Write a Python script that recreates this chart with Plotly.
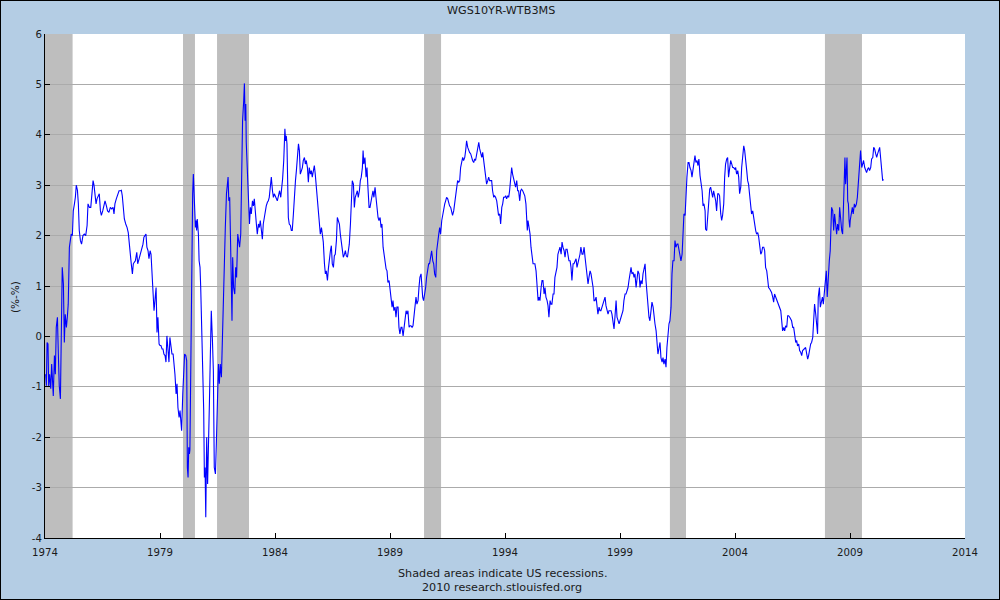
import plotly.graph_objects as go

# ---- data (decimal years, spread in percentage points) ----
years = [
1974.03,1974.06,1974.09,1974.13,1974.16,1974.20,1974.25,1974.29,1974.32,1974.36,1974.41,1974.45,1974.49,1974.54,1974.58,1974.62,1974.67,1974.71,1974.75,1974.80,1974.84,1974.88,1974.93,1974.97,
1975.01,1975.06,1975.10,1975.14,1975.19,1975.23,1975.28,1975.32,1975.36,1975.41,1975.45,1975.49,1975.54,1975.59,1975.65,1975.71,1975.77,1975.83,1975.87,1975.93,1975.99,
1976.04,1976.09,1976.13,1976.17,1976.22,1976.26,1976.30,1976.36,1976.41,1976.45,1976.51,1976.57,1976.61,1976.67,1976.72,1976.78,1976.84,1976.90,1976.96,
1977.00,1977.04,1977.10,1977.16,1977.22,1977.28,1977.32,1977.36,1977.41,1977.45,1977.51,1977.57,1977.62,1977.67,1977.71,1977.75,1977.80,1977.84,1977.88,1977.93,1977.99,
1978.03,1978.09,1978.14,1978.20,1978.26,1978.30,1978.35,1978.39,1978.43,1978.48,1978.52,1978.57,1978.61,1978.65,1978.70,1978.74,1978.78,1978.83,1978.87,1978.91,1978.96,
1979.00,1979.04,1979.09,1979.13,1979.17,1979.22,1979.26,1979.30,1979.35,1979.39,1979.43,1979.48,1979.52,1979.57,1979.61,1979.65,1979.70,1979.74,1979.78,1979.83,1979.87,1979.91,1979.94,1979.99,
1980.03,1980.07,1980.12,1980.16,1980.19,1980.22,1980.25,1980.28,1980.30,1980.33,1980.36,1980.39,1980.42,1980.45,1980.48,1980.51,1980.54,1980.57,1980.59,1980.62,1980.67,1980.70,1980.74,1980.77,1980.80,1980.83,1980.86,1980.90,1980.93,1980.96,1980.99,
1981.00,1981.03,1981.07,1981.10,1981.15,1981.19,1981.23,1981.28,1981.32,1981.36,1981.41,1981.45,1981.49,1981.54,1981.58,1981.62,1981.67,1981.71,1981.75,1981.80,1981.84,1981.89,1981.93,1981.96,1981.99,
1982.03,1982.07,1982.10,1982.13,1982.16,1982.20,1982.25,1982.29,1982.33,1982.38,1982.42,1982.46,1982.51,1982.55,1982.59,1982.64,1982.67,1982.70,1982.73,1982.75,1982.80,1982.84,1982.89,1982.93,1982.97,
1983.02,1983.06,1983.10,1983.15,1983.19,1983.23,1983.28,1983.32,1983.36,1983.41,1983.45,1983.49,1983.54,1983.58,1983.62,1983.67,1983.71,1983.75,1983.80,1983.84,1983.89,1983.93,1983.97,
1984.02,1984.06,1984.10,1984.15,1984.20,1984.25,1984.29,1984.33,1984.38,1984.41,1984.43,1984.46,1984.49,1984.52,1984.55,1984.58,1984.62,1984.67,1984.71,1984.75,1984.80,1984.84,1984.89,1984.93,1984.97,
1985.02,1985.06,1985.10,1985.15,1985.19,1985.23,1985.28,1985.32,1985.36,1985.41,1985.45,1985.49,1985.54,1985.58,1985.62,1985.67,1985.71,1985.75,1985.80,1985.84,1985.89,1985.93,1985.97,
1986.02,1986.06,1986.10,1986.15,1986.19,1986.23,1986.28,1986.32,1986.36,1986.41,1986.45,1986.49,1986.54,1986.58,1986.62,1986.67,1986.71,1986.75,1986.80,1986.84,1986.89,1986.93,1986.97,
1987.02,1987.06,1987.10,1987.15,1987.19,1987.23,1987.28,1987.32,1987.36,1987.41,1987.45,1987.49,1987.54,1987.58,1987.62,1987.67,1987.71,1987.75,1987.80,1987.83,1987.86,1987.91,1987.96,
1988.00,1988.04,1988.09,1988.13,1988.17,1988.22,1988.26,1988.30,1988.35,1988.39,1988.43,1988.48,1988.52,1988.57,1988.61,1988.65,1988.70,1988.74,1988.78,1988.83,1988.87,1988.91,1988.96,
1989.00,1989.04,1989.09,1989.13,1989.17,1989.22,1989.26,1989.30,1989.35,1989.39,1989.43,1989.48,1989.52,1989.57,1989.61,1989.65,1989.70,1989.74,1989.78,1989.83,1989.87,1989.91,1989.96,
1990.00,1990.04,1990.09,1990.13,1990.17,1990.22,1990.26,1990.30,1990.35,1990.38,1990.42,1990.46,1990.51,1990.55,1990.59,1990.64,1990.68,1990.72,1990.77,1990.81,1990.86,1990.90,1990.94,1990.99,
1991.03,1991.07,1991.12,1991.16,1991.20,1991.25,1991.29,1991.33,1991.38,1991.42,1991.46,1991.51,1991.55,1991.59,1991.64,1991.68,1991.72,1991.77,1991.81,1991.86,1991.90,1991.94,1991.99,
1992.03,1992.07,1992.12,1992.16,1992.20,1992.25,1992.29,1992.33,1992.38,1992.42,1992.46,1992.51,1992.55,1992.59,1992.64,1992.68,1992.72,1992.77,1992.81,1992.86,1992.90,1992.94,1992.99,
1993.03,1993.07,1993.12,1993.16,1993.20,1993.25,1993.29,1993.33,1993.38,1993.42,1993.46,1993.51,1993.55,1993.59,1993.64,1993.68,1993.72,1993.77,1993.81,1993.86,1993.90,1993.94,1993.99,
1994.03,1994.07,1994.12,1994.16,1994.20,1994.25,1994.29,1994.33,1994.38,1994.42,1994.46,1994.51,1994.55,1994.59,1994.64,1994.68,1994.72,1994.77,1994.81,1994.86,1994.91,1994.94,1994.97,
1995.00,1995.04,1995.09,1995.13,1995.17,1995.22,1995.26,1995.30,1995.35,1995.39,1995.44,1995.48,1995.52,1995.57,1995.61,1995.65,1995.70,1995.74,1995.78,1995.83,1995.87,1995.91,1995.96,
1996.00,1996.04,1996.09,1996.13,1996.17,1996.22,1996.26,1996.30,1996.35,1996.39,1996.44,1996.48,1996.52,1996.57,1996.61,1996.65,1996.70,1996.74,1996.78,1996.83,1996.87,1996.91,1996.96,
1997.00,1997.04,1997.09,1997.13,1997.17,1997.22,1997.26,1997.30,1997.35,1997.39,1997.44,1997.48,1997.52,1997.57,1997.61,1997.65,1997.70,1997.74,1997.78,1997.83,1997.87,1997.91,1997.96,
1998.00,1998.04,1998.09,1998.13,1998.17,1998.22,1998.26,1998.30,1998.35,1998.39,1998.44,1998.48,1998.52,1998.57,1998.61,1998.65,1998.70,1998.74,1998.78,1998.83,1998.87,1998.91,1998.96,
1999.00,1999.04,1999.09,1999.13,1999.17,1999.22,1999.26,1999.30,1999.35,1999.39,1999.44,1999.48,1999.52,1999.57,1999.61,1999.65,1999.70,1999.74,1999.78,1999.83,1999.87,1999.91,1999.96,
2000.00,2000.04,2000.09,2000.13,2000.17,2000.22,2000.26,2000.30,2000.35,2000.39,2000.44,2000.48,2000.52,2000.57,2000.61,2000.65,2000.70,2000.74,2000.78,2000.83,2000.87,2000.91,2000.96,
2001.00,2001.04,2001.09,2001.13,2001.17,2001.22,2001.26,2001.30,2001.35,2001.39,2001.43,2001.48,2001.52,2001.57,2001.61,2001.65,2001.70,2001.74,2001.78,2001.83,2001.87,2001.91,2001.96,
2002.00,2002.04,2002.09,2002.13,2002.17,2002.22,2002.26,2002.30,2002.35,2002.39,2002.43,2002.48,2002.52,2002.57,2002.61,2002.65,2002.70,2002.72,2002.77,2002.81,2002.86,2002.90,2002.94,2002.99,
2003.03,2003.07,2003.12,2003.16,2003.20,2003.25,2003.29,2003.33,2003.38,2003.42,2003.46,2003.51,2003.55,2003.59,2003.64,2003.68,2003.72,2003.77,2003.81,2003.86,2003.90,2003.94,2003.99,
2004.03,2004.07,2004.12,2004.16,2004.20,2004.25,2004.29,2004.33,2004.38,2004.42,2004.46,2004.51,2004.55,2004.59,2004.64,2004.68,2004.72,2004.77,2004.81,2004.86,2004.90,2004.94,2004.99,
2005.03,2005.07,2005.12,2005.16,2005.20,2005.25,2005.29,2005.33,2005.38,2005.42,2005.46,2005.51,2005.55,2005.59,2005.64,2005.68,2005.72,2005.77,2005.81,2005.86,2005.90,2005.94,2005.99,
2006.03,2006.07,2006.12,2006.16,2006.20,2006.25,2006.29,2006.33,2006.38,2006.42,2006.46,2006.51,2006.55,2006.59,2006.64,2006.68,2006.72,2006.77,2006.81,2006.86,2006.90,2006.94,2006.99,
2007.03,2007.07,2007.12,2007.16,2007.20,2007.25,2007.29,2007.33,2007.38,2007.42,2007.46,2007.51,2007.55,2007.59,2007.62,2007.67,2007.71,2007.75,2007.80,2007.84,2007.88,2007.93,2007.97,
2008.01,2008.06,2008.10,2008.14,2008.17,2008.20,2008.25,2008.29,2008.33,2008.38,2008.42,2008.46,2008.51,2008.55,2008.59,2008.64,2008.68,2008.71,2008.74,2008.78,2008.81,2008.84,2008.87,2008.90,2008.93,2008.96,2008.99,
2009.01,2009.06,2009.10,2009.14,2009.19,2009.23,2009.28,2009.32,2009.36,2009.41,2009.43,2009.46,2009.51,2009.55,2009.59,2009.64,2009.68,2009.72,2009.77,2009.81,2009.85,2009.90,2009.94,2009.99,
2010.03,2010.07,2010.12,2010.16,2010.20,2010.25,2010.29,2010.33,2010.38,2010.42,2010.45,
]

spread = [
-0.75,-0.98,-0.12,-0.15,-1.00,-0.75,-1.04,-0.55,-0.81,-1.18,-0.38,-0.75,0.18,0.38,-0.35,-0.98,-1.24,0.77,1.37,1.04,-0.12,0.44,0.18,0.38,
0.64,1.77,1.90,2.03,2.00,2.49,2.63,2.76,3.00,2.90,2.63,2.10,1.90,1.83,2.00,2.03,2.00,2.20,2.63,2.56,2.56,
2.76,3.09,3.00,2.83,2.63,2.73,2.76,2.83,2.49,2.40,2.49,2.63,2.69,2.59,2.49,2.46,2.56,2.53,2.56,
2.43,2.63,2.73,2.83,2.89,2.89,2.90,2.79,2.46,2.33,2.23,2.16,2.06,1.83,1.50,1.44,1.24,1.44,1.47,1.50,1.67,
1.44,1.54,1.63,1.73,1.83,1.97,2.00,2.03,1.77,1.70,1.54,1.70,1.63,1.24,0.78,0.51,0.71,0.97,0.08,0.38,-0.15,
-0.18,-0.18,-0.25,-0.25,-0.35,-0.38,-0.51,0.01,-0.28,-0.51,-0.02,-0.28,-0.35,-0.35,-0.51,-0.75,-1.14,-0.94,-1.41,-1.61,-1.47,-1.64,-1.87,-1.14,
-0.68,-0.35,-0.38,-0.48,-2.60,-2.80,-2.20,-2.33,-2.25,-0.61,1.30,2.49,2.83,3.22,2.96,2.49,2.16,2.30,2.10,2.33,2.03,1.50,1.37,0.97,0.31,0.21,-0.35,-1.47,-2.80,-2.60,-3.59,
-2.66,-2.00,-2.93,-2.00,-1.28,-0.35,0.51,-0.08,-0.68,-2.60,-2.73,-2.13,-1.21,-0.55,-0.94,-0.55,-0.81,0.05,0.84,1.37,2.16,2.83,3.09,3.16,2.69,
2.76,1.83,0.91,0.31,1.57,0.97,0.84,1.37,1.17,2.03,1.90,1.77,2.03,3.55,4.28,4.68,5.02,4.28,4.61,3.85,3.12,2.56,2.23,2.56,2.43,
2.69,2.59,2.73,2.36,2.23,2.03,2.23,2.16,2.30,2.10,1.93,2.23,2.40,2.49,2.59,2.66,2.69,2.76,2.96,3.16,2.89,2.76,2.83,
2.76,2.73,2.69,2.79,2.89,2.76,2.89,3.12,3.49,3.95,4.12,3.88,3.98,3.82,2.69,2.36,2.23,2.20,2.10,2.10,2.43,2.89,3.09,3.29,3.62,
3.82,3.69,3.22,3.29,3.35,3.49,3.55,3.42,3.49,3.35,3.06,3.35,3.22,3.29,3.16,3.29,3.39,3.22,2.96,2.76,2.46,2.33,2.03,
2.16,2.03,1.87,1.44,1.24,1.30,1.11,1.34,1.57,1.70,1.80,1.44,1.37,1.60,1.63,1.90,2.36,2.30,2.23,2.03,1.83,1.63,1.57,
1.63,1.70,1.60,1.57,1.70,1.83,2.23,2.76,3.09,3.02,2.56,2.76,2.83,2.89,2.76,2.89,3.09,3.16,3.35,3.69,3.42,3.55,3.16,
3.35,2.96,2.56,2.56,2.69,2.76,2.89,2.76,2.96,2.76,2.56,2.36,2.30,2.36,2.16,2.23,1.77,1.63,1.44,1.34,1.30,1.07,1.11,
0.97,0.78,0.58,0.71,0.51,0.58,0.38,0.58,0.58,0.18,0.05,0.18,0.18,0.01,0.21,0.31,0.51,0.44,0.51,0.18,0.21,0.21,0.18,
0.21,0.44,0.58,0.78,0.64,0.71,0.97,1.17,1.24,0.91,0.78,0.71,0.84,0.97,1.17,1.37,1.44,1.44,1.63,1.70,1.50,1.44,1.24,1.17,
1.70,1.90,2.03,2.16,2.03,2.30,2.43,2.49,2.63,2.69,2.76,2.73,2.63,2.59,2.56,2.46,2.40,2.49,2.63,2.76,2.96,3.09,3.06,
3.09,3.35,3.49,3.55,3.49,3.55,3.69,3.88,3.75,3.69,3.65,3.62,3.52,3.49,3.45,3.52,3.49,3.62,3.72,3.85,3.72,3.62,3.55,
3.65,3.49,3.35,3.22,3.02,3.09,3.16,3.09,3.09,3.09,2.89,2.76,2.79,2.76,2.69,2.49,2.40,2.43,2.23,2.56,2.63,2.76,2.76,
2.79,2.73,2.79,2.76,2.89,3.22,3.35,3.22,3.09,3.02,2.96,3.09,2.89,2.89,2.69,2.89,2.92,2.89,2.83,2.79,2.63,2.30,2.10,
2.30,2.16,2.03,1.77,1.57,1.44,1.44,1.44,1.30,0.97,0.71,0.78,0.71,0.97,1.11,1.11,0.84,0.97,0.78,0.71,0.61,0.38,0.71,
0.64,0.64,0.84,0.84,1.17,1.30,1.37,1.63,1.70,1.77,1.63,1.87,1.77,1.70,1.57,1.73,1.73,1.63,1.50,1.50,1.37,1.11,1.44,
1.44,1.50,1.54,1.37,1.44,1.57,1.63,1.77,1.63,1.63,1.77,1.57,1.37,1.11,1.04,1.17,1.30,1.24,1.11,0.97,0.71,0.71,0.78,
0.51,0.44,0.58,0.51,0.51,0.58,0.64,0.71,0.78,0.61,0.51,0.44,0.51,0.51,0.51,0.44,0.25,0.15,0.38,0.71,0.38,0.31,0.25,
0.31,0.38,0.44,0.51,0.71,0.84,0.84,0.91,0.97,1.11,1.24,1.37,1.24,1.27,1.17,1.24,0.97,1.24,1.30,1.24,0.97,1.11,1.04,
1.24,1.37,1.44,1.11,0.84,0.64,0.38,0.31,0.58,0.68,0.58,0.38,0.25,0.11,-0.08,-0.35,-0.22,-0.12,-0.42,-0.51,-0.42,-0.55,-0.45,
-0.61,-0.22,0.18,0.25,0.31,0.58,1.24,1.50,1.50,1.90,1.77,1.83,1.83,1.70,1.63,1.50,1.63,2.16,2.43,2.40,2.89,3.16,3.45,
3.45,3.35,3.29,3.16,3.29,3.55,3.59,3.45,3.49,3.39,3.52,3.19,3.09,2.89,2.59,2.63,2.49,2.13,2.10,2.43,2.63,2.92,2.96,2.83,
2.76,2.89,2.79,2.69,2.49,2.83,2.83,2.79,2.43,2.30,2.40,2.63,3.16,3.42,3.52,3.55,3.16,3.35,3.49,3.42,3.35,3.35,3.32,
3.35,3.22,3.29,3.16,2.83,2.96,3.35,3.59,3.78,3.69,3.55,3.29,3.09,3.02,2.79,2.56,2.43,2.49,2.33,2.16,2.10,2.03,2.06,
1.97,1.83,1.63,1.67,1.77,1.77,1.70,1.37,1.30,1.14,0.97,0.94,0.91,0.87,0.78,0.68,0.84,0.78,0.74,0.64,0.61,0.58,0.51,
0.31,0.11,0.18,0.11,0.21,0.18,0.41,0.41,0.38,0.35,0.31,0.18,0.18,0.05,-0.12,-0.08,-0.19,-0.15,-0.28,-0.32,-0.38,-0.28,-0.25,
-0.22,-0.22,-0.35,-0.45,-0.38,-0.22,-0.15,-0.12,-0.02,0.31,0.64,0.44,0.25,0.05,0.78,0.97,0.58,0.71,0.78,0.64,0.84,1.11,1.30,
0.78,1.37,1.50,1.70,2.10,2.56,2.49,2.10,2.43,2.10,2.03,2.23,2.10,2.56,2.30,2.10,2.03,2.69,2.96,3.55,3.02,3.35,3.55,2.69,2.63,2.30,2.16,
2.30,2.43,2.56,2.43,2.63,2.56,2.63,2.76,3.02,3.22,3.49,3.69,3.35,3.42,3.49,3.35,3.29,3.25,3.32,3.35,3.29,3.35,3.52,3.55,
3.75,3.72,3.62,3.55,3.62,3.69,3.75,3.55,3.29,3.09,3.12,
]

recession_start = [1974.0, 1980.0, 1981.48, 1990.48, 2001.17, 2007.91]
recession_end = [1975.20, 1980.52, 1982.87, 1991.22, 2001.87, 2009.52]

x_ticks = [1974, 1979, 1984, 1989, 1994, 1999, 2004, 2009, 2014]
y_ticks = [-4, -3, -2, -1, 0, 1, 2, 3, 4, 5, 6]

FONT = "DejaVu Sans"
BG = "#B4CDE4"
TXT = "#1A1A1A"

fig = go.Figure()
fig.add_trace(go.Scatter(
    x=years, y=spread, mode="lines",
    line=dict(color="#0000FF", width=1.1),
    hoverinfo="x+y", showlegend=False,
))

shapes = []
for s, e in zip(recession_start, recession_end):
    shapes.append(dict(type="rect", xref="x", yref="paper", x0=s, x1=e, y0=0, y1=1,
                       fillcolor="#BEBEBE", line=dict(width=0), layer="between"))
# outer black frame
W, H = 1000, 600
L, R, T, B = 45, 35, 34, 62
pw, ph = W - L - R, H - T - B
shapes.append(dict(type="rect", xref="paper", yref="paper",
                   x0=-L / pw, x1=(W - L) / pw, y0=-B / ph, y1=(H - B) / ph,
                   line=dict(color="black", width=2), fillcolor="rgba(0,0,0,0)", layer="above"))

def px_x(px):
    return (px - L) / pw

def px_y(py):
    return (H - B - py) / ph

annotations = [
    dict(text="WGS10YR-WTB3MS", xref="paper", yref="paper", x=px_x(501), y=px_y(11),
         showarrow=False, font=dict(family=FONT, size=11.2, color=TXT),
         xanchor="center", yanchor="middle"),
    dict(text="(%-%)", xref="paper", yref="paper", x=px_x(15), y=px_y(297),
         showarrow=False, textangle=-90, font=dict(family=FONT, size=10.5, color=TXT),
         xanchor="center", yanchor="middle"),
    dict(text="Shaded areas indicate US recessions.", xref="paper", yref="paper",
         x=px_x(502), y=px_y(573), showarrow=False,
         font=dict(family=FONT, size=11.2, color=TXT), xanchor="center", yanchor="middle"),
    dict(text="2010 research.stlouisfed.org", xref="paper", yref="paper",
         x=px_x(502), y=px_y(587), showarrow=False,
         font=dict(family=FONT, size=11.2, color=TXT), xanchor="center", yanchor="middle"),
]

fig.update_layout(
    width=W, height=H,
    margin=dict(l=L, r=R, t=T, b=B, pad=0),
    paper_bgcolor=BG, plot_bgcolor="white",
    font=dict(family=FONT, size=10.2, color=TXT),
    shapes=shapes, annotations=annotations,
    showlegend=False,
)
fig.update_xaxes(
    range=[1974, 2014], tickmode="array", tickvals=x_ticks,
    ticktext=[str(t) for t in x_ticks],
    showgrid=False, zeroline=False,
    showline=True, linecolor="black", linewidth=1,
    ticks="inside", ticklen=5, tickcolor="black", tickwidth=1,
    ticklabelstandoff=5,
    tickfont=dict(family=FONT, size=10.2, color=TXT),
)
fig.update_yaxes(
    range=[-4, 6], tickmode="array", tickvals=y_ticks,
    ticktext=[str(t) for t in y_ticks],
    showgrid=True, gridcolor="#ABABAB", gridwidth=1, zeroline=False,
    showline=True, linecolor="black", linewidth=1,
    ticks="inside", ticklen=5, tickcolor="black", tickwidth=1,
    tickfont=dict(family=FONT, size=10.2, color=TXT),
)

fig.write_html(
    "out.html",
    config={"displayModeBar": False},
    post_script="document.body.style.margin='0';document.body.style.padding='0';",
)
